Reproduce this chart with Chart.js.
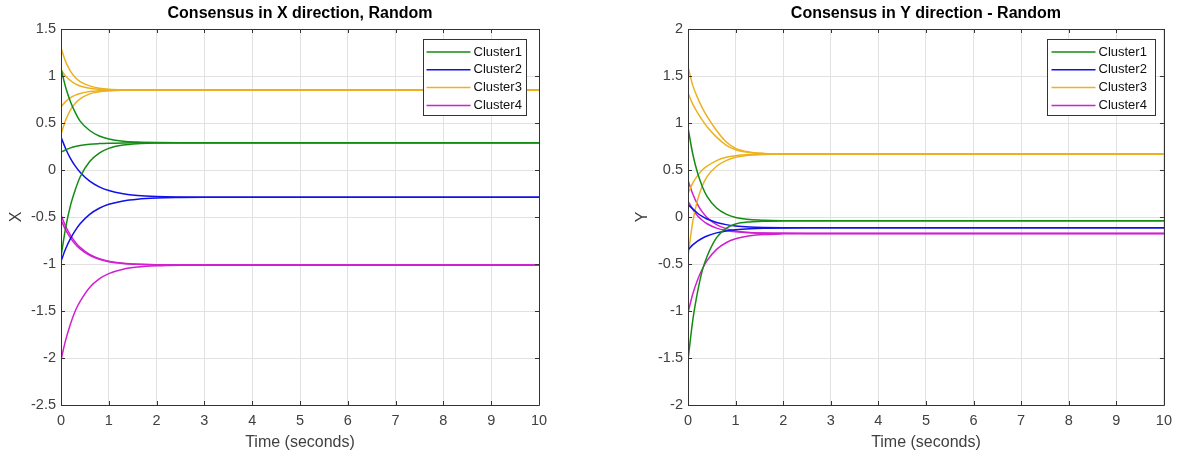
<!DOCTYPE html>
<html><head><meta charset="utf-8">
<script src="https://cdn.jsdelivr.net/npm/chart.js@4"></script>
<style>
html,body{margin:0;padding:0;background:#fff;overflow:hidden;width:1179px;height:457px}
#c1{position:absolute;left:0;top:0}
#c2{position:absolute;left:620px;top:0}
</style></head><body>
<canvas id="c1" width="590" height="457" style="width:590px;height:457px"></canvas>
<canvas id="c2" width="559" height="457" style="width:559px;height:457px"></canvas>
<script>
// ---- data ----
const T = [0, 0.1, 0.2, 0.3, 0.4, 0.6, 0.8, 1.0, 1.3, 1.6, 2.0, 2.5, 3, 4, 10];
const CLUSTERS = ['Cluster1', 'Cluster2', 'Cluster3', 'Cluster4'];
const X_TICKS = [0,1,2,3,4,5,6,7,8,9,10];

// X direction
const X_C1 = [
  [1.08, 0.875, 0.724, 0.61, 0.52, 0.42, 0.362, 0.33, 0.306, 0.297, 0.292, 0.29, 0.29, 0.29, 0.29],
  [0.19, 0.216, 0.235, 0.25, 0.26, 0.274, 0.281, 0.285, 0.288, 0.289, 0.29, 0.29, 0.29, 0.29, 0.29],
  [-0.92, -0.607, -0.374, -0.208, -0.074, 0.09, 0.18, 0.23, 0.265, 0.28, 0.287, 0.29, 0.29, 0.29, 0.29]
];
const X_C2 = [
  [0.35, 0.224, 0.122, 0.041, -0.024, -0.119, -0.18, -0.219, -0.253, -0.271, -0.282, -0.287, -0.289, -0.29, -0.29],
  [-0.97, -0.836, -0.728, -0.642, -0.572, -0.472, -0.407, -0.365, -0.329, -0.31, -0.298, -0.293, -0.291, -0.29, -0.29]
];
const X_C3 = [
  [1.30, 1.15, 1.05, 0.985, 0.94, 0.895, 0.87, 0.858, 0.852, 0.851, 0.85, 0.85, 0.85, 0.85, 0.85],
  [1.07, 0.997, 0.95, 0.916, 0.894, 0.87, 0.859, 0.854, 0.851, 0.85, 0.85, 0.85, 0.85, 0.85, 0.85],
  [0.67, 0.73, 0.77, 0.796, 0.814, 0.834, 0.843, 0.847, 0.849, 0.85, 0.85, 0.85, 0.85, 0.85, 0.85],
  [0.38, 0.535, 0.64, 0.71, 0.756, 0.81, 0.832, 0.842, 0.848, 0.85, 0.85, 0.85, 0.85, 0.85, 0.85]
];
const X_C4 = [
  [-0.48, -0.601, -0.695, -0.767, -0.823, -0.899, -0.944, -0.971, -0.992, -1.002, -1.007, -1.009, -1.01, -1.01, -1.01],
  [-0.53, -0.64, -0.724, -0.79, -0.84, -0.909, -0.95, -0.975, -0.994, -1.003, -1.008, -1.009, -1.01, -1.01, -1.01],
  [-2.02, -1.805, -1.635, -1.497, -1.398, -1.249, -1.158, -1.102, -1.055, -1.032, -1.018, -1.012, -1.011, -1.01, -1.01]
];

// Y direction
const Y_C1 = [
  [0.95, 0.67, 0.47, 0.325, 0.22, 0.095, 0.03, -0.005, -0.027, -0.035, -0.039, -0.04, -0.04, -0.04, -0.04],
  [-1.52, -1.1, -0.8, -0.57, -0.42, -0.22, -0.12, -0.075, -0.052, -0.044, -0.041, -0.04, -0.04, -0.04, -0.04]
];
const Y_C2 = [
  [0.13, 0.086, 0.04, 0.006, -0.021, -0.058, -0.081, -0.095, -0.106, -0.111, -0.114, -0.115, -0.115, -0.115, -0.115],
  [-0.35, -0.297, -0.257, -0.226, -0.202, -0.169, -0.148, -0.136, -0.125, -0.119, -0.116, -0.115, -0.115, -0.115, -0.115]
];
const Y_C3 = [
  [1.60, 1.40, 1.27, 1.16, 1.07, 0.92, 0.80, 0.73, 0.69, 0.676, 0.671, 0.67, 0.67, 0.67, 0.67],
  [1.32, 1.20, 1.11, 1.03, 0.96, 0.85, 0.765, 0.715, 0.685, 0.674, 0.67, 0.67, 0.67, 0.67, 0.67],
  [0.25, 0.36, 0.44, 0.50, 0.54, 0.60, 0.635, 0.652, 0.664, 0.668, 0.67, 0.67, 0.67, 0.67, 0.67],
  [-0.42, -0.05, 0.18, 0.33, 0.43, 0.54, 0.60, 0.635, 0.657, 0.665, 0.669, 0.67, 0.67, 0.67, 0.67]
];
const Y_C4 = [
  [0.39, 0.245, 0.135, 0.054, -0.005, -0.082, -0.124, -0.148, -0.164, -0.17, -0.174, -0.175, -0.175, -0.175, -0.175],
  [0.17, 0.081, 0.014, -0.035, -0.072, -0.118, -0.144, -0.158, -0.168, -0.172, -0.174, -0.175, -0.175, -0.175, -0.175],
  [-1.02, -0.82, -0.67, -0.553, -0.464, -0.344, -0.274, -0.232, -0.2, -0.186, -0.179, -0.176, -0.175, -0.175, -0.175]
];

// ---- styling ----
const COLORS = ['#138c13', '#1010ea', '#EDB120', '#d020d0'];
const FONT = 'Liberation Sans, Arial, Helvetica, sans-serif';
const AXIS_COLOR = '#333333';
const TICK_COLOR = '#404040';
const GRID_COLOR = '#e2e2e2';

function buildDatasets(groups) {
  const ds = [];
  groups.forEach((group, ci) => {
    group.forEach(series => {
      ds.push({
        label: CLUSTERS[ci],
        data: T.map((t, i) => ({ x: t, y: series[i] })),
        borderColor: COLORS[ci],
        backgroundColor: COLORS[ci],
        borderWidth: 1.5,
        pointRadius: 0,
        fill: false,
        cubicInterpolationMode: 'monotone'
      });
    });
  });
  return ds;
}

const boxPlugin = {
  id: 'matlabBox',
  afterDraw(chart, args, opts) {
    const { ctx, chartArea: a, scales } = chart;
    ctx.save();
    ctx.strokeStyle = AXIS_COLOR;
    ctx.lineWidth = 1;
    ctx.beginPath();
    ctx.rect(Math.round(a.left) + 0.5, Math.round(a.top) + 0.5, Math.round(a.right - a.left), Math.round(a.bottom - a.top));
    ctx.stroke();
    const L = 4;
    ctx.beginPath();
    scales.x.ticks.forEach(t => {
      const px = Math.round(scales.x.getPixelForValue(t.value)) + 0.5;
      ctx.moveTo(px, a.bottom); ctx.lineTo(px, a.bottom - L);
      ctx.moveTo(px, a.top); ctx.lineTo(px, a.top + L);
    });
    scales.y.ticks.forEach(t => {
      const py = Math.round(scales.y.getPixelForValue(t.value)) + 0.5;
      ctx.moveTo(a.left, py); ctx.lineTo(a.left + L, py);
      ctx.moveTo(a.right, py); ctx.lineTo(a.right - L, py);
    });
    ctx.stroke();

    // legend
    const lg = opts.legend;
    const bx = Math.round(a.right - lg.rightOff - lg.width) + 0.5;
    const by = Math.round(a.top + lg.topOff) + 0.5;
    const bh = lg.height;
    ctx.fillStyle = '#fff';
    ctx.fillRect(bx, by, lg.width, bh);
    ctx.strokeStyle = AXIS_COLOR;
    ctx.strokeRect(bx, by, lg.width, bh);
    ctx.font = '13px ' + FONT;
    ctx.textBaseline = 'middle';
    ctx.textAlign = 'left';
    CLUSTERS.forEach((name, i) => {
      const y = by + lg.firstRow + i * lg.rowStep;
      ctx.strokeStyle = COLORS[i];
      ctx.lineWidth = 1.5;
      ctx.beginPath();
      ctx.moveTo(bx + lg.lineStart, y);
      ctx.lineTo(bx + lg.lineEnd, y);
      ctx.stroke();
      ctx.fillStyle = '#111';
      ctx.fillText(name, bx + lg.textStart, y);
    });
    ctx.restore();
  }
};

function makeChart(id, groups, cfg) {
  return new Chart(document.getElementById(id), {
    type: 'line',
    data: { datasets: buildDatasets(groups) },
    plugins: [boxPlugin],
    options: {
      responsive: false,
      animation: false,
      events: [],
      layout: { padding: { left: 0, right: cfg.padRight, top: 0, bottom: 0 } },
      plugins: {
        legend: { display: false },
        tooltip: { enabled: false },
        title: {
          display: true,
          text: cfg.title,
          fullSize: false,
          color: '#000',
          font: { family: FONT, size: 16, weight: 'bold', lineHeight: 1.2 },
          padding: { top: 4, bottom: 5.8 }
        },
        matlabBox: { legend: cfg.legend }
      },
      scales: {
        x: {
          type: 'linear',
          min: 0, max: 10,
          afterBuildTicks: s => { s.ticks = X_TICKS.map(v => ({ value: v })); },
          afterFit: s => { s.height = 52; },
          ticks: {
            color: TICK_COLOR,
            font: { family: FONT, size: 14.5 },
            padding: 7,
            maxRotation: 0,
            autoSkip: false,
            callback: v => String(v)
          },
          grid: { color: GRID_COLOR, drawTicks: false },
          border: { display: false },
          title: {
            display: true,
            text: 'Time (seconds)',
            color: TICK_COLOR,
            font: { family: FONT, size: 16, lineHeight: 1.2 },
            padding: { top: 0, bottom: 5 }
          }
        },
        y: {
          type: 'linear',
          min: cfg.yMin, max: cfg.yMax,
          afterBuildTicks: s => { s.ticks = cfg.yTicks.map(v => ({ value: v })); },
          afterFit: s => { s.width = cfg.yWidth; },
          ticks: {
            color: TICK_COLOR,
            font: { family: FONT, size: 14.5 },
            padding: 5,
            autoSkip: false,
            callback: v => String(v)
          },
          grid: { color: GRID_COLOR, drawTicks: false },
          border: { display: false },
          title: {
            display: true,
            text: cfg.yTitle,
            color: TICK_COLOR,
            font: { family: FONT, size: 16, lineHeight: 1.2 },
            padding: { top: cfg.yTitlePad, bottom: 0 }
          }
        }
      }
    }
  });
}

const X_Y_TICKS = [-2.5, -2, -1.5, -1, -0.5, 0, 0.5, 1, 1.5];
const Y_Y_TICKS = [-2, -1.5, -1, -0.5, 0, 0.5, 1, 1.5, 2];

makeChart('c1', [X_C1, X_C2, X_C3, X_C4], {
  title: 'Consensus in X direction, Random',
  yTitle: 'X', yMin: -2.5, yMax: 1.5, yTicks: X_Y_TICKS,
  yWidth: 61, padRight: 51, yTitlePad: 6.7,
  legend: { width: 103, height: 76, rightOff: 13, topOff: 10, firstRow: 12.5, rowStep: 17.8, lineStart: 3, lineEnd: 47, textStart: 50 }
});
makeChart('c2', [Y_C1, Y_C2, Y_C3, Y_C4], {
  title: 'Consensus in Y direction - Random',
  yTitle: 'Y', yMin: -2, yMax: 2, yTicks: Y_Y_TICKS,
  yWidth: 68, padRight: 13, yTitlePad: 12.9,
  legend: { width: 108, height: 76, rightOff: 9, topOff: 10, firstRow: 12.5, rowStep: 17.8, lineStart: 4, lineEnd: 48, textStart: 51 }
});
</script>
</body></html>
